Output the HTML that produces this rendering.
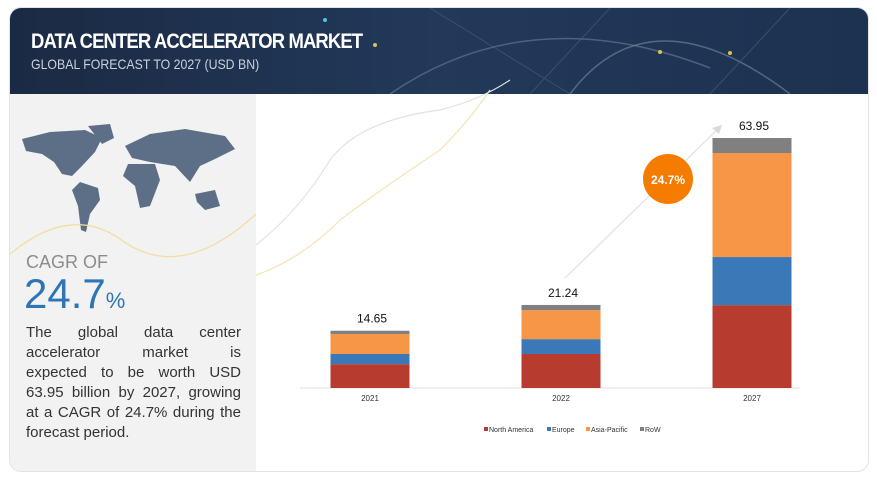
<!DOCTYPE html>
<html><head><meta charset="utf-8"><style>
body{margin:0;width:877px;height:479px;background:#fff;font-family:"Liberation Sans",sans-serif;overflow:hidden;position:relative}
.card{position:absolute;left:9px;top:7px;width:858px;height:463px;border:1px solid #e3e3e3;border-radius:12px;overflow:hidden;background:#fff}
.hdr{position:absolute;left:0;top:0;width:858px;height:86px;background:linear-gradient(90deg,#1b2a44,#22395a 50%,#1d3150)}
.t1{position:absolute;left:21px;top:22px;color:#fff;font-size:21px;font-weight:bold;letter-spacing:-1px;transform:scaleX(.88);transform-origin:left}
.t2{position:absolute;left:21px;top:48px;color:#c9d2de;font-size:14px;transform:scaleX(.88);transform-origin:left}
.left{position:absolute;left:0;top:86px;width:246px;height:377px;background:#f2f2f2}
.cagr{position:absolute;left:16px;top:158px;color:#8c8c8c;font-size:18px}
.big{position:absolute;left:14px;top:176px;color:#2e75b6;font-size:42px}
.big span{font-size:22px}
.para{position:absolute;left:16px;top:229px;width:215px;font-size:15px;line-height:20px;color:#333}
.para div{text-align:justify;text-align-last:justify;white-space:nowrap;height:20px}
.para div.last{text-align-last:left}
</style></head><body>
<div class="card">
<div class="hdr">
<svg width="858" height="86" style="position:absolute;left:0;top:0">
<path d="M380 86 Q520 -10 700 60" stroke="#6d7f99" stroke-width="1.5" fill="none" opacity=".6"/>
<path d="M560 86 Q640 -20 780 86" stroke="#7a8aa2" stroke-width="1.5" fill="none" opacity=".6"/>
<path d="M420 0 L560 86 M600 0 L520 86 M780 0 L700 86" stroke="#56698a" stroke-width="1" opacity=".5"/>
<circle cx="315" cy="12" r="2" fill="#4fc3e8"/><circle cx="365" cy="37" r="2" fill="#e0c050"/><circle cx="650" cy="44" r="2" fill="#e0c050"/><circle cx="720" cy="45" r="2" fill="#e0c050"/>
</svg>
<div class="t1">DATA CENTER ACCELERATOR MARKET</div>
<div class="t2">GLOBAL FORECAST TO 2027 (USD BN)</div>
</div>
<div class="left">
<svg width="246" height="160" style="position:absolute;left:0;top:0">
<g fill="#5d6f87">
<path d="M12 45 L40 38 L75 36 L92 44 L85 58 L72 72 L62 82 L52 80 L44 68 L32 60 L16 57 Z"/>
<path d="M78 32 L100 30 L104 44 L92 50 Z"/>
<path d="M70 88 L88 94 L90 106 L80 120 L76 138 L71 136 L68 112 L62 96 Z"/>
<path d="M115 52 L140 40 L175 35 L215 42 L225 55 L205 65 L190 72 L180 88 L165 72 L140 68 L122 64 Z"/>
<path d="M118 70 L145 70 L150 86 L140 112 L130 114 L125 92 L113 82 Z"/>
<path d="M185 100 L205 96 L210 112 L195 116 L187 108 Z"/>
</g>
</svg>
<svg width="246" height="377" style="position:absolute;left:0;top:0">
<path d="M0 160 Q60 110 110 145 Q170 190 246 120" stroke="#f3dc9c" fill="none" stroke-width="1.2"/>
</svg>
<div class="cagr">CAGR OF</div>
<div class="big">24.7<span>%</span></div>
<div class="para"><div>The global data center</div><div>accelerator market is</div><div>expected to be worth USD</div><div>63.95 billion by 2027, growing</div><div>at a CAGR of 24.7% during the</div><div class="last">forecast period.</div></div>
</div>
</div>
<svg id="chart" width="877" height="479" style="position:absolute;left:0;top:0">
<path d="M256 245 Q300 210 330 160 Q360 120 440 110 Q480 100 510 80" stroke="#e2e2e2" fill="none" stroke-width="1.2"/>
<path d="M256 275 Q300 260 340 220 Q380 190 440 150 Q470 120 490 90" stroke="#f5e3b0" fill="none" stroke-width="1.2"/>
<line x1="565" y1="278" x2="720" y2="127" stroke="#e6e6e6" stroke-width="1.5"/>
<polygon points="722,125 712,128 719,134" fill="#d9d9d9"/>
<circle cx="668" cy="179" r="25" fill="#f57c00"/>
<text x="668" y="184" text-anchor="middle" fill="#fff" font-size="12" font-weight="bold">24.7%</text>
<line x1="300" y1="388" x2="800" y2="388" stroke="#e0e0e0"/>
<g id="bars"></g>
<g id="legend"></g>
</svg>
<script>
const categories=["2021","2022","2027"];
const totals=["14.65","21.24","63.95"];
const northAmerica=[6.1,8.7,21.2];
const europe=[2.6,3.8,12.3];
const asiaPacific=[5.1,7.4,26.6];
const row=[0.85,1.34,3.85];
const seriesNames=["North America","Europe","Asia-Pacific","RoW"];
const colors=["#b83b30","#3b78b8","#f79646","#808080"];
const series=[northAmerica,europe,asiaPacific,row];
const ns="http://www.w3.org/2000/svg";
const base=388,scale=250/63.95;
const y=v=>base-v*scale;
const xc=i=>370+i*191;
const g=document.getElementById('bars');
categories.forEach((c,i)=>{
  let cum=0;
  series.forEach((s,k)=>{
    const r=document.createElementNS(ns,'rect');
    r.setAttribute('x',xc(i)-39.5);r.setAttribute('width',79);
    r.setAttribute('y',y(cum+s[i]));r.setAttribute('height',s[i]*scale);
    r.setAttribute('fill',colors[k]);
    
    
    g.appendChild(r);cum+=s[i];
  });
  const t=document.createElementNS(ns,'text');
  t.setAttribute('x',xc(i)+2);t.setAttribute('y',y(cum)-8);t.setAttribute('text-anchor','middle');
  t.setAttribute('font-size','12');t.setAttribute('fill','#111');t.textContent=totals[i];
  
  
  g.appendChild(t);
  const l=document.createElementNS(ns,'text');
  l.setAttribute('x',xc(i));l.setAttribute('y',401);l.setAttribute('text-anchor','middle');
  l.setAttribute('font-size','8');l.setAttribute('fill','#333');l.textContent=c;
  
  
  g.appendChild(l);
});
const lg=document.getElementById('legend');
const lx=[484,547,586,640];
seriesNames.forEach((n,k)=>{
  const r=document.createElementNS(ns,'rect');
  r.setAttribute('x',lx[k]);r.setAttribute('y',427);r.setAttribute('width',4);r.setAttribute('height',4);r.setAttribute('fill',colors[k]);
  
  
  lg.appendChild(r);
  const t=document.createElementNS(ns,'text');
  t.setAttribute('x',lx[k]+5);t.setAttribute('y',432);t.setAttribute('font-size','7');t.setAttribute('fill','#333');t.textContent=n;
  
  
  lg.appendChild(t);
});
</script>
</body></html>
